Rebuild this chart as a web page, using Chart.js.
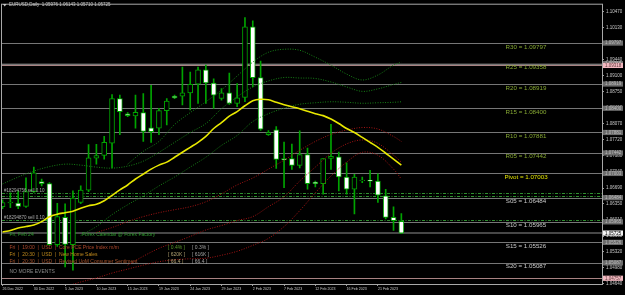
<!DOCTYPE html>
<html>
<head>
<meta charset="utf-8">
<title>EURUSD Daily</title>
<style>
  html, body { margin: 0; padding: 0; background: #000; }
  #wrap { width: 625px; height: 295px; }
</style>
<script src="https://cdn.jsdelivr.net/npm/chart.js@4.4.1/dist/chart.umd.min.js"></script>
</head>
<body>
<div id="wrap"><canvas id="chart" width="625" height="295"></canvas></div>
<script>
// daily bars (broker feed has Sunday bars)
const dates = [
  '26 Dec 2022', '27 Dec 2022', '28 Dec 2022', '29 Dec 2022', '30 Dec 2022',
  '2 Jan 2023', '3 Jan 2023', '4 Jan 2023', '5 Jan 2023', '6 Jan 2023',
  '8 Jan 2023', '9 Jan 2023', '10 Jan 2023', '11 Jan 2023', '12 Jan 2023', '13 Jan 2023',
  '15 Jan 2023', '16 Jan 2023', '17 Jan 2023', '18 Jan 2023', '19 Jan 2023', '20 Jan 2023',
  '22 Jan 2023', '23 Jan 2023', '24 Jan 2023', '25 Jan 2023', '26 Jan 2023', '27 Jan 2023',
  '29 Jan 2023', '30 Jan 2023', '31 Jan 2023', '1 Feb 2023', '2 Feb 2023', '3 Feb 2023',
  '5 Feb 2023', '6 Feb 2023', '7 Feb 2023', '8 Feb 2023', '9 Feb 2023', '10 Feb 2023',
  '12 Feb 2023', '13 Feb 2023', '14 Feb 2023', '15 Feb 2023', '16 Feb 2023', '17 Feb 2023',
  '19 Feb 2023', '20 Feb 2023', '21 Feb 2023', '22 Feb 2023', '23 Feb 2023', '24 Feb 2023'
];
const opens = [
  1.06290, 1.06370, 1.06368, 1.06296, 1.06614, 1.06827, 1.06784, 1.05477, 1.06063, 1.05477,
  1.06381, 1.06644, 1.07329, 1.07387, 1.07654, 1.08609, 1.08278, 1.08236, 1.08306, 1.07981,
  1.07972, 1.08348, 1.08660, 1.08660, 1.08730, 1.08915, 1.09224, 1.08942, 1.08609, 1.08730,
  1.08503, 1.08630, 1.10145, 1.09055, 1.07832, 1.07939, 1.07323, 1.07323, 1.07175, 1.07408,
  1.06820, 1.06784, 1.07323, 1.07357, 1.06926, 1.06665, 1.06848, 1.06863, 1.06841, 1.06523,
  1.06063, 1.05976
];
const highs = [
  1.06438, 1.06587, 1.06629, 1.06911, 1.07138, 1.06884, 1.06805, 1.06360, 1.06353, 1.06629,
  1.06735, 1.07620, 1.07627, 1.07796, 1.08694, 1.08681, 1.08306, 1.08681, 1.08715, 1.08893,
  1.08397, 1.08609, 1.08681, 1.09282, 1.09176, 1.09282, 1.09324, 1.09033, 1.08821, 1.09154,
  1.08927, 1.10343, 1.10273, 1.09409, 1.07924, 1.08008, 1.07675, 1.07633, 1.07917, 1.07548,
  1.06841, 1.07323, 1.08057, 1.07463, 1.07230, 1.06984, 1.06926, 1.07068, 1.06996, 1.06665,
  1.06290, 1.06143
];
const lows = [
  1.06247, 1.06268, 1.06247, 1.06275, 1.06597, 1.06735, 1.05462, 1.05441, 1.05002, 1.04932,
  1.06353, 1.06614, 1.07202, 1.07308, 1.07124, 1.07832, 1.08221, 1.07972, 1.07690, 1.07669,
  1.07832, 1.08045, 1.08603, 1.08469, 1.08363, 1.08503, 1.08503, 1.08397, 1.08575, 1.08482,
  1.08433, 1.08539, 1.08857, 1.07924, 1.07818, 1.07111, 1.06699, 1.07090, 1.07124, 1.06665,
  1.06714, 1.06559, 1.07090, 1.06629, 1.06559, 1.06135, 1.06805, 1.06714, 1.06381, 1.06029,
  1.05780, 1.05710
];
const closes = [
  1.06381, 1.06390, 1.06296, 1.06614, 1.07018, 1.06784, 1.05477, 1.06077, 1.05483, 1.06474,
  1.06644, 1.07336, 1.07387, 1.07669, 1.08609, 1.08327, 1.08242, 1.08312, 1.07902, 1.07896,
  1.08348, 1.08554, 1.08624, 1.08730, 1.08915, 1.09224, 1.08942, 1.08681, 1.08730, 1.08503,
  1.08624, 1.10145, 1.09055, 1.07951, 1.07881, 1.07302, 1.07293, 1.07175, 1.07408, 1.06784,
  1.06784, 1.07323, 1.07372, 1.06926, 1.06665, 1.06926, 1.06862, 1.06835, 1.06538, 1.06063,
  1.05993, 1.05725
];

// yellow moving average, one value per bar
const maValues = [
  1.05749, 1.05780, 1.05833, 1.05865, 1.05897, 1.05971, 1.06077, 1.06130, 1.06162, 1.06194,
  1.06258, 1.06311, 1.06343, 1.06417, 1.06534, 1.06650, 1.06756, 1.06884, 1.06990, 1.07096,
  1.07181, 1.07245, 1.07351, 1.07457, 1.07563, 1.07669, 1.07796, 1.07966, 1.08093, 1.08231,
  1.08327, 1.08454, 1.08560, 1.08592, 1.08581, 1.08528, 1.08475, 1.08433, 1.08390, 1.08337,
  1.08284, 1.08242, 1.08168, 1.08072, 1.07966, 1.07881, 1.07775, 1.07669, 1.07563, 1.07436,
  1.07308, 1.07181
];

// dotted band curves, sampled every second bar
const bandIdx = [0, 2, 4, 6, 8, 10, 12, 14, 16, 18, 20, 22, 24, 26, 28, 30, 32, 34, 36, 38, 40, 42, 44, 46, 48, 50, 51];
const green1 = [null, null, null, null, null, null, null, null,
  1.07202, 1.07477, 1.07689, 1.08051, 1.08306, 1.08539, 1.08793, 1.09091, 1.09388, 1.09600, 1.09664,
  1.09642, 1.09494, 1.09324, 1.09133, 1.09006, 1.09112, 1.09324, 1.09388];
const green2 = [1.06778, 1.06926, 1.07054, 1.07149, 1.07202, 1.07181, 1.07139, 1.07117, 1.07160,
  1.07266, 1.07456, 1.07668, 1.07880, 1.08072, 1.08390, 1.08645, 1.08857, 1.08985, 1.09059,
  1.09048, 1.09038, 1.08963, 1.08857, 1.08762, 1.08815, 1.08910, 1.08953];
const green3 = [null, null, null, null, null,
  1.05674, 1.05865, 1.06120, 1.06332, 1.06523, 1.06735, 1.06926, 1.07139, 1.07351, 1.07604,
  1.07817, 1.08115, 1.08283, 1.08401, 1.08486, 1.08518, 1.08539, 1.08528, 1.08507, 1.08518,
  1.08528, 1.08539];
const red1 = [null, null, null, null, null, null,
  1.05738, 1.05844, 1.05971, 1.06078, 1.06162, 1.06226, 1.06290, 1.06396, 1.06565, 1.06757,
  1.06905, 1.07096, 1.07287, 1.07498, 1.07689, 1.07839, 1.07933, 1.07987, 1.07955, 1.07795, 1.07689];
const red2 = [null, null, null, null, null, null, null, null,
  1.05038, 1.05229, 1.05398, 1.05526, 1.05653, 1.05791, 1.05887, 1.05993, 1.06078, 1.06290,
  1.06502, 1.06841, 1.07139, 1.07435, 1.07636, 1.07721, 1.07647, 1.07393, 1.07245];
const red3 = [null, null, null,
  1.04444, 1.04571, 1.04677, 1.04762, 1.04868, 1.04953, 1.05038, 1.05112, 1.05153, 1.05175,
  1.05186, 1.05250, 1.05335, 1.05462, 1.05611, 1.05865, 1.06205, 1.06587, 1.06948, 1.07245,
  1.07456, 1.07393, 1.07096, 1.06884];

// pivot levels drawn across the chart
const pivotNames = ['R30', 'R25', 'R20', 'R15', 'R10', 'R05', 'Pivot', 'S05', 'S10', 'S15', 'S20'];
const pivotLevels = [1.09797, 1.09358, 1.08919, 1.08400, 1.07881, 1.07442, 1.07003, 1.06484, 1.05965, 1.05526, 1.05087];
const orderLevels = [1.06576, 1.06527, 1.05997];
const orderTags = ['#18294756 sell 0.10', '', '#18294870 sell 0.10'];
const pinkLevels = [1.09318, 1.04757];
const lastPrice = 1.05725;

const yTicks = [1.10470, 1.10130, 1.09790, 1.09440, 1.09100, 1.08750, 1.08410, 1.08070, 1.07720,
  1.07380, 1.07040, 1.06690, 1.06350, 1.06010, 1.05660, 1.05320, 1.04980, 1.04640];
const xTickIdx = [0, 4, 8, 12, 16, 20, 24, 28, 32, 36, 40, 44, 48];

// news panel (Forex Factory calendar indicator)
const calDay = 'Fri, Feb 24';
const calTitle = 'Forex Calendar @ Forex Factory';
const calEvents = [
  'Fri  |  19:00  |  USD  |  Core PCE Price Index m/m',
  'Fri  |  20:30  |  USD  |  New Home Sales',
  'Fri  |  20:30  |  USD  |  Revised UoM Consumer Sentiment'
];
const calForecast = ['[ 0.4% ]', '[ 620K ]', '[ 66.4 ]'];
const calPrevious = ['[ 0.3% ]', '[ 616K ]', '[ 66.4 ]'];
const calColors = ['#b0482c', '#c08a1c', '#a8522a'];

const header = 'EURUSD,Daily  1.05976 1.06143 1.05710 1.05725';

const SANS = "'Liberation Sans', Arial, sans-serif";
const GREEN = '#00a400';
const LEVEL_GRAY = '#767676';

function bandData(vals) {
  return bandIdx.map((x, i) => ({ x: x, y: vals[i] })).filter(p => p.y !== null);
}

function bandSet(vals, color) {
  return {
    type: 'line', data: bandData(vals), borderColor: color, borderWidth: 1,
    borderDash: [1, 1.5], pointRadius: 0, tension: 0.35, order: 0
  };
}

const overlay = {
  id: 'mtOverlay',
  beforeDraw(chart) {
    const ctx = chart.ctx;
    ctx.save();
    ctx.fillStyle = '#000';
    ctx.fillRect(0, 0, chart.width, chart.height);
    ctx.restore();
  },
  beforeDatasetsDraw(chart) {
    const { ctx, chartArea: a, scales: { y } } = chart;
    const hline = (v, color, w, dash) => {
      const py = Math.round(y.getPixelForValue(v)) + (w % 2 ? 0.5 : 0);
      ctx.strokeStyle = color;
      ctx.lineWidth = w;
      ctx.setLineDash(dash || []);
      ctx.beginPath();
      ctx.moveTo(a.left, py);
      ctx.lineTo(a.right, py);
      ctx.stroke();
    };
    ctx.save();
    ctx.beginPath();
    ctx.rect(a.left, a.top, a.width, a.height);
    ctx.clip();
    hline(pivotLevels[1] - 0.0001, '#2e2e2e', 2);
    pivotLevels.forEach(v => hline(v, LEVEL_GRAY, 1));
    pinkLevels.forEach(v => hline(v, '#a88282', 1));
    orderLevels.forEach(v => hline(v, '#2f8f2f', 1, [3, 1.5, 1, 1.5]));
    hline(lastPrice, '#474747', 2);
    ctx.restore();
  },
  afterDatasetsDraw(chart) {
    const { ctx, chartArea: a, scales: { y } } = chart;
    ctx.save();
    ctx.textBaseline = 'middle';
    // pivot labels
    ctx.font = '6.2px ' + SANS;
    ctx.textAlign = 'center';
    pivotLevels.forEach((v, i) => {
      const name = pivotNames[i];
      ctx.fillStyle = name === 'Pivot' ? '#e0e000' : (name[0] === 'R' ? '#86a833' : '#c8c8c8');
      ctx.fillText(name + ' = ' + v.toFixed(5), 526, y.getPixelForValue(v) + 3.8);
    });
    // order tags
    ctx.textAlign = 'left';
    ctx.font = '4.5px ' + SANS;
    ctx.fillStyle = '#a8a8a8';
    orderLevels.forEach((v, i) => {
      if (orderTags[i]) ctx.fillText(orderTags[i], a.left + 2, y.getPixelForValue(v) - 3);
    });
    // calendar panel
    ctx.font = '5px ' + SANS;
    ctx.fillStyle = '#2e9a2e';
    ctx.fillText(calDay, 9.5, 234.5);
    ctx.fillText(calTitle, 82, 234.5);
    calEvents.forEach((t, i) => {
      const ty = 247.8 + i * 7.1;
      ctx.fillStyle = calColors[i];
      ctx.fillText(t, 9.5, ty);
      ctx.fillStyle = i === 0 ? '#5c9a2c' : '#b0a070';
      ctx.fillText(calForecast[i], 168, ty);
      ctx.fillStyle = '#a0a0a0';
      ctx.fillText(calPrevious[i], 192, ty);
    });
    ctx.fillStyle = '#8a8a8a';
    ctx.fillText('NO MORE EVENTS', 9.5, 271.8);
    ctx.restore();
  },
  afterDraw(chart) {
    const { ctx, chartArea: a, scales: { y } } = chart;
    ctx.save();
    // frame
    ctx.strokeStyle = '#a8a8a8';
    ctx.lineWidth = 1;
    ctx.strokeRect(a.left - 0.5, a.top - 0.5, a.width + 1, a.height + 1);
    // header
    ctx.fillStyle = '#c8c8c8';
    ctx.beginPath();
    ctx.moveTo(3, 4); ctx.lineTo(6.5, 4); ctx.lineTo(4.75, 6.5); ctx.closePath(); ctx.fill();
    ctx.font = '4.5px ' + SANS;
    ctx.textBaseline = 'middle';
    ctx.textAlign = 'left';
    ctx.fillText(header, 9, 5.2);
    // price boxes on the axis
    const box = (v, bg, fg) => {
      const py = y.getPixelForValue(v);
      ctx.fillStyle = bg;
      ctx.fillRect(a.right + 1, py - 2.6, 20, 5.2);
      ctx.fillStyle = fg;
      ctx.fillText(v.toFixed(5), a.right + 3, py + 0.2);
    };
    pivotLevels.forEach(v => box(v, '#6c6c6c', '#bdbdbd'));
    pinkLevels.forEach(v => box(v, '#f2b8c0', '#5a3a3a'));
    box(lastPrice, '#f4f4f4', '#000');
    ctx.restore();
  }
};

const chart = new Chart(document.getElementById('chart'), {
  type: 'bar',
  data: {
    datasets: [
      {
        type: 'line', data: maValues.map((v, i) => ({ x: i, y: v })),
        borderColor: '#e8e800', borderWidth: 1.6, pointRadius: 0, tension: 0.3, order: 0
      },
      bandSet(green1, '#168016'),
      bandSet(green2, '#168016'),
      bandSet(green3, '#168016'),
      bandSet(red1, '#a31414'),
      bandSet(red2, '#a31414'),
      bandSet(red3, '#a31414'),
      {
        data: dates.map((d, i) => ({ x: i, y: [opens[i], closes[i]] })),
        backgroundColor: c => closes[c.dataIndex] >= opens[c.dataIndex] ? '#000' : '#fff',
        borderColor: GREEN, borderWidth: 1, borderSkipped: false,
        barThickness: 5, grouped: false, order: 1
      },
      {
        data: dates.map((d, i) => ({ x: i, y: [lows[i], highs[i]] })),
        backgroundColor: GREEN, borderWidth: 0,
        barThickness: 1, grouped: false, order: 2
      }
    ]
  },
  options: {
    responsive: false,
    animation: false,
    devicePixelRatio: 1,
    events: [],
    layout: { padding: { left: 2, top: 2, right: 0, bottom: 0 } },
    plugins: { legend: { display: false }, tooltip: { enabled: false } },
    scales: {
      x: {
        type: 'linear', min: -0.07, max: 76.66, offset: false,
        afterBuildTicks: s => { s.ticks = xTickIdx.map(v => ({ value: v })); },
        afterFit: s => { s.height = 11; },
        grid: { offset: false, drawOnChartArea: false, drawTicks: true, tickLength: 2, color: '#9a9a9a' },
        border: { display: true, color: '#a8a8a8' },
        ticks: {
          autoSkip: false, maxRotation: 0, align: 'start', padding: 1,
          color: '#c8c8c8', font: { size: 3.6, family: SANS },
          callback: v => dates[v]
        }
      },
      y: {
        type: 'linear', position: 'right', min: 1.04634, max: 1.10619, beginAtZero: false,
        afterBuildTicks: s => { s.ticks = yTicks.map(v => ({ value: v })); },
        afterFit: s => { s.width = 23; },
        grid: { drawOnChartArea: false, drawTicks: true, tickLength: 2, color: '#9a9a9a' },
        border: { display: true, color: '#a8a8a8' },
        ticks: {
          padding: 2, color: '#c8c8c8', font: { size: 4.5, family: SANS },
          callback: v => v.toFixed(5)
        }
      }
    }
  },
  plugins: [overlay]
});
</script>
</body>
</html>
